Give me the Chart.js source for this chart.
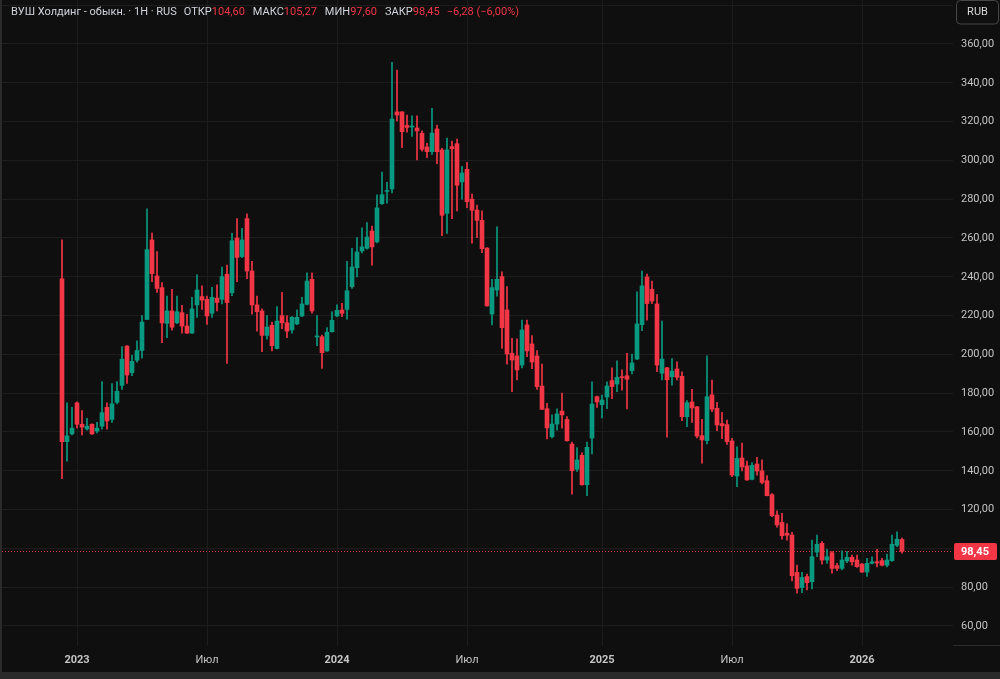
<!DOCTYPE html>
<html lang="ru">
<head>
<meta charset="utf-8">
<title>ВУШ Холдинг - обыкн.</title>
<script src="https://cdn.jsdelivr.net/npm/chart.js@4.4.1/dist/chart.umd.min.js"></script>
<style>
  html, body { margin: 0; padding: 0; background: #0f0f0f; }
  canvas { display: block; }
</style>
</head>
<body>
<canvas id="chart" width="1000" height="679"></canvas>
<script>
// weekly candles, index 0 = week of 12 Dec 2022, last = week of 2 Mar 2026
const opens = [
  239, 155, 159, 175, 164, 161.5, 164, 160.5, 163, 172.7,
  166.5, 175.3, 184, 204.3, 190.6, 197, 202, 218, 259, 240.4,
  234.4, 216, 222.4, 216.3, 221.5, 214.6, 211, 225.5, 229.8, 228.4,
  221.2, 229, 228.4, 241.3, 231.8, 260, 250.4, 270, 243, 225.5,
  222.4, 209.8, 215, 203, 220, 216.3, 212.6, 215.7, 219.8, 225.8,
  238.7, 209, 209.1, 201.8, 211.7, 219.8, 222.9, 223.2, 234.9, 244.7,
  253.3, 254.7, 263.6, 258, 277.7, 284, 285.3, 325, 325, 318,
  317.2, 316.7, 314, 306.9, 304.5, 316.2, 305.4, 272.7, 307.1, 308.6,
  288.9, 295.4, 280, 274.4, 269.1, 254.8, 220.8, 233.2, 240.1, 222.9,
  200.6, 199.2, 194.5, 215.2, 205.4, 199.2, 183.7, 172, 157.6, 164.1,
  170.8, 166.5, 153.8, 140.8, 148, 132.8, 156.9, 178.2, 174.1, 178,
  186.5, 184.7, 188.3, 189, 191.6, 197.6, 215.3, 239.9, 233.5, 226,
  190.3, 193.1, 188.5, 192.5, 188.7, 167.9, 175.5, 173, 158.1, 155.5,
  179.1, 172.2, 164.3, 163.8, 155.4, 137.3, 146.6, 142.5, 135.6, 143.5,
  140, 134.9, 127.7, 117.2, 113.4, 107.8, 106.9, 87.6, 79.8, 85.5,
  82.8, 98.1, 102.6, 94, 97.8, 91.1, 89.7, 93.5, 95.4, 94,
  91.9, 87.8, 92.3, 93.1, 93.7, 91.3, 93.7, 101.6, 104.6
];
const highs = [
  259, 175, 172.7, 175.5, 171, 167, 164.2, 165, 186, 175,
  185, 186, 204, 204.5, 199.5, 207, 220, 275, 262.5, 253,
  237, 230, 233.5, 230, 225.3, 220.7, 229.4, 241, 235.3, 230,
  234.6, 235.8, 245, 246, 262.4, 270, 265, 272.4, 248, 230,
  223.5, 220, 216.7, 224.6, 232, 220, 219.5, 223, 229.4, 242,
  242, 220, 210, 213.8, 222, 225.6, 226.3, 248, 254.7, 260.2,
  265.3, 268, 266.2, 282.2, 294, 288.7, 350.6, 346.6, 325.2, 323.4,
  323, 323, 315.2, 308.8, 326.8, 318.2, 306.2, 311.5, 310, 311,
  297, 299, 282.7, 277, 274, 255, 238.7, 265.8, 242.6, 235,
  208.3, 208, 217.7, 217.7, 209.7, 202, 195, 174.8, 168.8, 172,
  180, 168, 154.8, 152, 149.3, 154.8, 185.8, 178.5, 179, 185.8,
  193.1, 196.7, 192, 200.6, 200.2, 232.2, 243, 241.4, 237.8, 230.8,
  217.2, 193.3, 197.8, 196.2, 191, 176.2, 182, 173.2, 166.5, 199.2,
  186.8, 175.3, 170.2, 166.2, 156.7, 152.4, 154.3, 145, 144.3, 147,
  145.6, 137.5, 128.3, 119.4, 118.1, 112.6, 108.3, 91.4, 87.6, 86.7,
  104.3, 106.9, 103.5, 99.5, 98.3, 92.3, 98.7, 98.3, 96.6, 96.6,
  92.3, 94.9, 95.7, 99.5, 94.9, 97.1, 106.9, 108.6, 105.27
];
const lows = [
  136, 145, 158.5, 162, 158.5, 161, 158.8, 159.5, 161.5, 161.5,
  165, 174.5, 182, 185, 189, 196, 198, 218, 237.5, 232,
  206, 208.6, 212.5, 215.8, 211, 210.8, 210.8, 219, 223.2, 215.5,
  219, 222.4, 226, 195.4, 230.3, 237.5, 249.8, 239, 220.7, 212,
  201.4, 207.8, 201.8, 202.8, 213.3, 208.6, 211, 215.3, 219.5, 225.5,
  221.2, 204.5, 192.8, 201.5, 211.4, 219.5, 219.5, 218.2, 234, 240,
  252.3, 254.3, 246, 257.5, 277.3, 278, 283.2, 320.3, 306.6, 314.5,
  312.4, 300.2, 304.8, 301.4, 303.1, 298.3, 261.2, 262.4, 270, 274,
  280, 275.6, 257.3, 260.2, 252.4, 224.8, 215.2, 230, 203.1, 195,
  180.8, 186.8, 193, 198.8, 192.6, 182, 171.5, 156.4, 157, 161,
  162, 155.3, 128, 139.7, 132.6, 127.2, 148.7, 172.7, 167.2, 172,
  177.2, 180.8, 181.6, 171.9, 190, 197.3, 212.2, 217.7, 226.2, 191.1,
  186.8, 157.3, 184.2, 186.8, 165.8, 162.7, 165, 157, 143.9, 153.8,
  170.5, 160.7, 156.5, 153.6, 137, 131.8, 139.9, 135, 135.3, 137.7,
  133.2, 127, 116.4, 111, 104.8, 104.3, 83.2, 76.9, 77.2, 78.6,
  79.1, 95.7, 91.9, 92.3, 87.2, 88.5, 88.9, 92.6, 91.4, 90.2,
  87.6, 85.5, 92, 90.4, 91, 90.4, 93.3, 100.9, 97.6
];
const closes = [
  155, 158, 162, 164, 162.5, 163, 159, 162, 170, 165.7,
  174.5, 181, 197.5, 189.4, 196.4, 202, 216.7, 254, 241.6, 234,
  216.2, 222.4, 214, 222, 214.6, 211, 223.4, 233.2, 228, 219.8,
  229.4, 226.8, 240.1, 226.7, 258.6, 250, 259, 243, 225.5, 222,
  209.8, 214.1, 204.5, 217.2, 216.3, 212, 219.1, 219.1, 226, 237.8,
  222.4, 209.3, 200.9, 211.4, 217.6, 222.7, 221.2, 232.8, 245, 252.8,
  255.4, 260.5, 255.4, 275.5, 282.3, 284.3, 321.3, 323.4, 314.8, 317,
  317.7, 315.2, 305.7, 304.5, 314.1, 304.5, 271.7, 305.4, 306, 287.2,
  293.5, 278.7, 274.3, 269.1, 254.5, 225, 234.4, 238.7, 213.8, 200.2,
  197.1, 192, 212.6, 201.8, 196.1, 183.4, 171.7, 162.1, 164.1, 169.3,
  168.8, 155.5, 140, 145.6, 132.8, 152.1, 174.4, 175.5, 176.5, 183.7,
  183.4, 188.2, 188, 187.2, 195.6, 215.7, 235.3, 226.2, 227.5, 194.5,
  197.6, 186.9, 191.4, 188.2, 167.9, 175.1, 172.4, 157.9, 155.9, 178.2,
  171.7, 163.6, 163.2, 155, 137.8, 146.4, 142, 135.3, 142.8, 139.9,
  134, 127.2, 116.9, 112.1, 106.5, 106.8, 85.9, 79.4, 85, 82.3,
  95.7, 102.1, 94, 95.7, 89.7, 89.7, 94, 95.4, 93.1, 90.6,
  87.8, 92.3, 93.1, 92.5, 91.3, 94, 102.1, 104.73, 98.45
];

const tickWeeks = [3, 29, 55, 81, 108, 134, 160];
const tickLabels = ["2023", "Июл", "2024", "Июл", "2025", "Июл", "2026"];
const priceTicks = [60, 80, 100, 120, 140, 160, 180, 200, 220, 240, 260, 280, 300, 320, 340, 360, 380];

const BG = "#0f0f0f";
const FRAME = "#2a2a2a";
const GRID = "#1d1d1d";
const TEXT = "#c4c4c4";
const UP = "#089981";
const DOWN = "#f23645";
const FONT = "Roboto, 'Liberation Sans', sans-serif";

const fmt = v => v.toFixed(2).replace(".", ",").replace("-", "\u2212");

const weeks = opens.map((_, i) => i);
const colors = weeks.map(i => (closes[i] >= opens[i] ? UP : DOWN));
const last = weeks.length - 1;

const overlay = {
  id: "overlay",
  beforeDraw(chart) {
    const { ctx, width, height } = chart;
    ctx.save();
    ctx.fillStyle = BG;
    ctx.fillRect(0, 0, width, height);
    ctx.fillStyle = FRAME;
    ctx.fillRect(0, height - 7, width, 7);
    ctx.fillRect(0, 0, 2, height);
    ctx.fillRect(chart.chartArea.right, chart.chartArea.bottom - 1, width - chart.chartArea.right, 1);
    ctx.restore();
  },
  beforeDatasetsDraw(chart) {
    // dotted line at the last close
    const { ctx, chartArea } = chart;
    const y = Math.round(chart.scales.y.getPixelForValue(closes[last])) + 0.5;
    ctx.save();
    ctx.strokeStyle = DOWN;
    ctx.lineWidth = 1;
    ctx.setLineDash([1, 2]);
    ctx.beginPath();
    ctx.moveTo(chartArea.left, y);
    ctx.lineTo(chartArea.right, y);
    ctx.stroke();
    ctx.restore();
  },
  afterDraw(chart) {
    const { ctx, chartArea } = chart;
    ctx.save();

    // last price label on the axis
    const y = chart.scales.y.getPixelForValue(closes[last]);
    ctx.fillStyle = closes[last] >= opens[last] ? UP : DOWN;
    ctx.beginPath();
    ctx.roundRect(chartArea.right + 1, Math.round(y) - 8, 43, 17, 2);
    ctx.fill();
    ctx.fillStyle = "#ffffff";
    ctx.font = `bold 11px ${FONT}`;
    ctx.textBaseline = "middle";
    ctx.textAlign = "left";
    ctx.fillText(fmt(closes[last]), chartArea.right + 8, Math.round(y) + 1);

    // currency button
    ctx.fillStyle = BG;
    ctx.strokeStyle = "#464646";
    ctx.lineWidth = 1;
    ctx.beginPath();
    ctx.roundRect(956.5, 0.5, 42, 23.5, 4);
    ctx.fill();
    ctx.stroke();
    ctx.fillStyle = "#d8d8d8";
    ctx.font = `11px ${FONT}`;
    ctx.textAlign = "center";
    ctx.fillText("RUB", 977.5, 12.5);

    // legend line
    const chg = closes[last] - closes[last - 1];
    const pct = chg / closes[last - 1] * 100;
    const parts = [
      ["ВУШ Холдинг - обыкн. · 1Н · RUS", "#d1d4dc", 7],
      ["ОТКР", "#d1d4dc", 0], [fmt(opens[last]), DOWN, 8],
      ["МАКС", "#d1d4dc", 0], [fmt(highs[last]), DOWN, 8],
      ["МИН", "#d1d4dc", 0], [fmt(lows[last]), DOWN, 8],
      ["ЗАКР", "#d1d4dc", 0], [fmt(closes[last]), DOWN, 7],
      [`${fmt(chg)} (${fmt(pct)}%)`, DOWN, 0]
    ];
    ctx.font = `11px ${FONT}`;
    ctx.textAlign = "left";
    let x = 11;
    parts.forEach(([txt, col, gap]) => {
      ctx.fillStyle = col;
      ctx.fillText(txt, x, 12.5);
      x += ctx.measureText(txt).width + gap;
    });
    ctx.restore();
  }
};

new Chart(document.getElementById("chart"), {
  type: "bar",
  data: {
    datasets: [
      {
        label: "body",
        data: weeks.map(i => ({ x: i, y: [opens[i], closes[i]] })),
        backgroundColor: colors,
        grouped: false,
        barThickness: 4,
        maxBarThickness: 4,
        minBarLength: 1,
        order: 0
      },
      {
        label: "wick",
        data: weeks.map(i => ({ x: i, y: [lows[i], highs[i]] })),
        backgroundColor: colors,
        grouped: false,
        barThickness: 1,
        maxBarThickness: 1,
        order: 1
      }
    ]
  },
  options: {
    responsive: false,
    animation: false,
    devicePixelRatio: 1,
    layout: { padding: { left: 2, top: 0, right: 0, bottom: 0 } },
    plugins: { legend: { display: false }, tooltip: { enabled: false } },
    scales: {
      x: {
        type: "linear",
        min: -12,
        max: 178.2,
        offset: false,
        grid: { color: GRID, offset: false, drawTicks: false },
        border: { display: false },
        afterBuildTicks: s => { s.ticks = tickWeeks.map(v => ({ value: v })); },
        afterFit: s => { s.height = 33; s.paddingLeft = 0; s.paddingRight = 0; },
        ticks: {
          padding: 8,
          color: TEXT,
          autoSkip: false,
          maxRotation: 0,
          callback: (v, i) => tickLabels[i],
          font: c => ({ family: FONT, size: 11, weight: /^\d+$/.test(tickLabels[c.index]) ? "bold" : "normal" })
        }
      },
      y: {
        position: "right",
        min: 49.69,
        max: 382.68,
        grid: { color: GRID, drawTicks: false },
        border: { display: false },
        afterBuildTicks: s => { s.ticks = priceTicks.map(v => ({ value: v })); },
        afterFit: s => { s.width = 47; s.paddingTop = 0; s.paddingBottom = 0; },
        ticks: {
          padding: 8,
          color: TEXT,
          font: { family: FONT, size: 11 },
          callback: v => fmt(v)
        }
      }
    }
  },
  plugins: [overlay]
});
</script>
</body>
</html>
